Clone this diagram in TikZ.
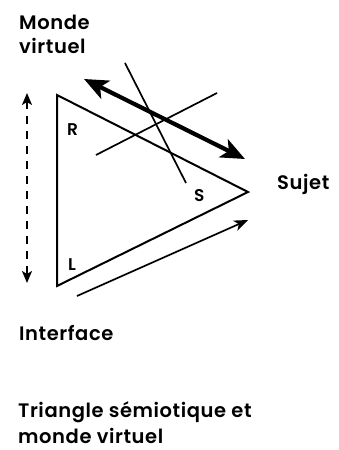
\documentclass[tikz,border=0pt]{standalone}
\usepackage{fontspec}
\setmainfont{Poppins}[BoldFont={Poppins SemiBold}, LetterSpace=3]
\usetikzlibrary{arrows.meta}
\begin{document}
\begin{tikzpicture}[x=1pt,y=-1pt,
  lbl/.style={font=\bfseries\fontsize{19.5}{24}\selectfont, anchor=base west, inner sep=0pt, align=left},
  vtx/.style={font=\bfseries\fontsize{17}{18}\selectfont, inner sep=0pt, anchor=base west},
  edge/.style={line width=2pt},
  thin/.style={line width=1.7pt}]
\useasboundingbox (0,0) rectangle (338,450);
\coordinate (A) at (57,95);
\coordinate (B) at (57,286);
\coordinate (C) at (248,192);
\draw[edge, line join=miter] (A) -- (C) -- (B) -- cycle;
\node[vtx] (R) at (67,135) {R};
\node[vtx] (S) at (194,201) {S};
\node[vtx] (L) at (68,270) {L};
\node[lbl] (sujet) at (277,189) {Sujet};
\node[lbl] (monde) at (19,29) {Monde};
\node[lbl] (virt) at (19,53) {virtuel};
\node[lbl] (inter) at (19,340) {Interface};
\node[lbl] (cap1) at (18,417) {Triangle sémiotique et};
\node[lbl] (cap2) at (18,443) {monde virtuel};
\coordinate (d1) at (27,93);
\coordinate (d2) at (27,283);
\draw[line width=1.8pt, dash pattern=on 8pt off 7pt, {Stealth[length=12pt,width=10pt,inset=3pt]}-{Stealth[length=12pt,width=10pt,inset=3pt]}] (d1) -- (d2);
\coordinate (t1) at (84,79);
\coordinate (t2) at (245,159);
\draw[line width=4.2pt, {Stealth[length=24pt,width=20pt,inset=6pt]}-{Stealth[length=24pt,width=20pt,inset=6pt]}] (t1) -- (t2);
\coordinate (l1a) at (125,63);
\coordinate (l1b) at (186,183);
\draw[thin] (l1a) -- (l1b);
\coordinate (l2a) at (96,155);
\coordinate (l2b) at (217,93);
\draw[thin] (l2a) -- (l2b);
\coordinate (b1) at (77,296);
\coordinate (b2) at (248,220);
\draw[thin, -{Stealth[length=14pt,width=11pt,inset=4pt]}] (b1) -- (b2);
\end{tikzpicture}
\end{document}
